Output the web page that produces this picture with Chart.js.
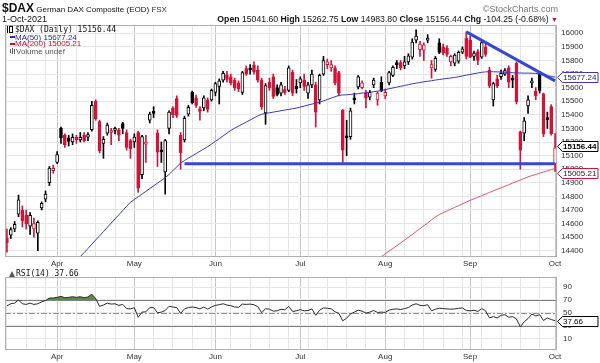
<!DOCTYPE html>
<html>
<head>
<meta charset="utf-8">
<script src="https://cdn.jsdelivr.net/npm/chart.js@4.4.1/dist/chart.umd.min.js"></script>
<style>
  body { margin:0; background:#fff; }
  #wrap { position:relative; width:600px; height:363px; overflow:hidden; font-family:"Liberation Sans", Arial, sans-serif; color:#111; }
  .t { position:absolute; white-space:nowrap; line-height:1; }
  .mono { font-family:"DejaVu Sans Mono", monospace; }
  .ico { display:inline-block; vertical-align:middle; }
  #pc { position:absolute; left:0; top:0; }
  #rc { position:absolute; left:0; top:266px; }
</style>
</head>
<body>
<div id="wrap">
  <canvas id="pc" width="600" height="268"></canvas>
  <canvas id="rc" width="600" height="97"></canvas>

  <div class="t" style="left:2px;top:-1px;"><b style="font-size:12px">$DAX</b><span style="font-size:8px"> German DAX Composite (EOD) </span><span style="font-size:8px;color:#333">FSX</span></div>
  <div class="t" style="right:42px;top:5px;font-size:9px;color:#777;">&copy;StockCharts.com</div>
  <div class="t" style="left:2px;top:15px;font-size:9px;">1-Oct-2021</div>
  <div class="t" id="ohlc" style="right:42px;top:15px;font-size:8.7px;"></div>

  <div class="t mono" id="lg1" style="left:7px;top:26px;font-size:8px;"></div>
  <div class="t" id="lg2" style="left:10px;top:33.5px;font-size:8px;color:#2b2b9a;"></div>
  <div class="t" id="lg3" style="left:10px;top:40px;font-size:8px;color:#c8102e;"></div>
  <div class="t" style="left:10px;top:47.5px;font-size:8px;color:#555;"><span class="ico" style="width:1px;height:4px;background:#666;margin-right:1px"></span><span class="ico" style="width:1px;height:6px;background:#666;margin-right:1px"></span><span class="ico" style="width:1px;height:5px;background:#666;margin-right:1px"></span>Volume undef</div>
  <div class="t mono" id="lg4" style="left:9px;top:270px;font-size:8px;"></div>
</div>
<script>
// trading days shown
const dates = [
  '2021-03-15','2021-03-16','2021-03-17','2021-03-18','2021-03-19','2021-03-22','2021-03-23','2021-03-24','2021-03-25','2021-03-26','2021-03-29','2021-03-30','2021-03-31',
  '2021-04-01','2021-04-06','2021-04-07','2021-04-08','2021-04-09','2021-04-12','2021-04-13','2021-04-14','2021-04-15','2021-04-16','2021-04-19','2021-04-20','2021-04-21','2021-04-22','2021-04-23','2021-04-26','2021-04-27','2021-04-28','2021-04-29','2021-04-30',
  '2021-05-03','2021-05-04','2021-05-05','2021-05-06','2021-05-07','2021-05-10','2021-05-11','2021-05-12','2021-05-13','2021-05-14','2021-05-17','2021-05-18','2021-05-19','2021-05-20','2021-05-21','2021-05-24','2021-05-25','2021-05-26','2021-05-27','2021-05-28','2021-05-31',
  '2021-06-01','2021-06-02','2021-06-03','2021-06-04','2021-06-07','2021-06-08','2021-06-09','2021-06-10','2021-06-11','2021-06-14','2021-06-15','2021-06-16','2021-06-17','2021-06-18','2021-06-21','2021-06-22','2021-06-23','2021-06-24','2021-06-25','2021-06-28','2021-06-29','2021-06-30',
  '2021-07-01','2021-07-02','2021-07-05','2021-07-06','2021-07-07','2021-07-08','2021-07-09','2021-07-12','2021-07-13','2021-07-14','2021-07-15','2021-07-16','2021-07-19','2021-07-20','2021-07-21','2021-07-22','2021-07-23','2021-07-26','2021-07-27','2021-07-28','2021-07-29','2021-07-30',
  '2021-08-02','2021-08-03','2021-08-04','2021-08-05','2021-08-06','2021-08-09','2021-08-10','2021-08-11','2021-08-12','2021-08-13','2021-08-16','2021-08-17','2021-08-18','2021-08-19','2021-08-20','2021-08-23','2021-08-24','2021-08-25','2021-08-26','2021-08-27','2021-08-30','2021-08-31',
  '2021-09-01','2021-09-02','2021-09-03','2021-09-06','2021-09-07','2021-09-08','2021-09-09','2021-09-10','2021-09-13','2021-09-14','2021-09-15','2021-09-16','2021-09-17','2021-09-20','2021-09-21','2021-09-22','2021-09-23','2021-09-24','2021-09-27','2021-09-28','2021-09-29','2021-09-30',
  '2021-10-01'
];

const opens = [
  14495,14515,14560,14670,14700,14660,14580,14560,14530,14715,14780,14900,14990,15050,15300,15250,15230,15200,15235,15215,
  15250,15235,15290,15500,15350,15190,15265,15270,15285,15290,15335,15270,15210,15200,15270,14960,15185,15360,15425,15265,
  15130,14980,15300,15450,15520,15250,15215,15405,15565,15525,15445,15450,15510,15510,15565,15610,15655,15695,15680,15655,
  15635,15565,15740,15740,15765,15730,15655,15415,15640,15680,15600,15560,15585,15580,15715,15610,15635,15655,15560,15620,
  15620,15510,15700,15770,15745,15745,15710,15435,15240,15240,15520,15605,15600,15560,15530,15620,15510,15640,15540,15635,
  15690,15780,15785,15760,15790,15825,15950,15880,15875,15950,15745,15735,15930,15900,15890,15790,15780,15795,15862,15965,
  15950,15830,15865,15825,15900,15730,15510,15665,15680,15700,15745,15670,15780,15275,15265,15465,15635,15575,15710,15555,
  15370,15460,15041.60
];
const highs = [
  14560,14570,14615,14810,14730,14700,14680,14640,14620,14760,14840,15020,15030,15130,15310,15260,15250,15260,15250,15270,
  15270,15270,15500,15510,15360,15240,15340,15300,15310,15300,15345,15290,15220,15260,15280,15250,15250,15420,15460,15290,
  15200,15220,15430,15460,15540,15270,15390,15470,15575,15545,15460,15540,15525,15590,15640,15665,15720,15720,15700,15670,
  15650,15720,15760,15770,15790,15760,15670,15630,15670,15700,15620,15640,15610,15760,15730,15660,15680,15700,15640,15730,
  15640,15700,15830,15810,15800,15760,15720,15440,15360,15450,15560,15690,15650,15580,15580,15670,15570,15680,15590,15720,
  15760,15800,15800,15830,15850,15960,16025,15940,15930,15990,15800,15830,15960,15920,15910,15840,15850,15870,15900,16010,
  15980,15870,15880,15945,15920,15750,15640,15690,15730,15740,15760,15690,15790,15280,15380,15540,15670,15600,15720,15560,
  15420,15475,15262.75
];
const lows = [
  14390,14490,14540,14650,14575,14560,14520,14500,14400,14700,14760,14880,14970,15040,15190,15160,15170,15180,15190,15200,
  15200,15210,15280,15360,15120,15080,15250,15180,15260,15210,15260,15140,15080,15160,14830,14930,15050,15340,15380,15020,
  15050,14816,15260,15380,15380,15000,15200,15390,15480,15455,15360,15430,15420,15500,15540,15480,15640,15640,15620,15580,
  15570,15550,15690,15700,15700,15640,15440,15330,15580,15520,15540,15540,15550,15570,15540,15560,15600,15580,15520,15600,
  15310,15480,15690,15740,15720,15620,15540,15050,15100,15220,15480,15590,15590,15450,15510,15600,15470,15570,15520,15620,
  15680,15740,15730,15740,15770,15810,15930,15830,15800,15930,15670,15720,15850,15840,15830,15760,15760,15780,15850,15810,
  15820,15800,15770,15815,15830,15600,15465,15600,15660,15690,15600,15600,15480,15000,15210,15410,15600,15510,15560,15240,
  15300,15250,14983.80
];
const closes = [
  14460,14555,14595,14775,14620,14600,14660,14600,14610,14748,14817,15008,15007,15107,15230,15180,15205,15234,15215,15234,
  15209,15255,15470,15370,15135,15220,15325,15285,15300,15250,15300,15160,15150,15236,14860,15240,15200,15405,15410,15125,
  15128,15210,15420,15400,15395,15120,15375,15455,15490,15470,15425,15525,15440,15580,15630,15650,15705,15660,15635,15600,
  15590,15710,15700,15730,15715,15655,15460,15615,15600,15535,15550,15620,15565,15745,15560,15590,15665,15610,15620,15700,
  15420,15690,15800,15790,15770,15635,15560,15140,15230,15430,15510,15680,15635,15525,15565,15655,15560,15575,15565,15710,
  15750,15770,15745,15790,15835,15935,15980,15920,15915,15965,15770,15815,15860,15855,15845,15830,15840,15860,15885,15830,
  15825,15855,15800,15932,15845,15615,15630,15615,15705,15725,15640,15655,15495,15140,15355,15510,15650,15540,15580,15260,
  15365,15260.69,15156.44
];

// 50-day average, first drawn day then daily values
const ma50From = '2021-04-12';
const ma50 = [
  14325,14358,14386,14417,14448,14479,14510,14541,14572,14603,14634,14665,14696,14727,14757,14777,14797,14817,14837,14857,
  14877,14897,14917,14937,14962,14990,15017,15045,15064,15081,15098,15115,15132,15149,15166,15185,15205,15225,15245,15265,
  15285,15302,15317,15332,15347,15362,15377,15392,15405,15410,15415,15420,15425,15430,15435,15440,15445,15450,15457,15464,
  15472,15479,15486,15493,15503,15513,15523,15533,15543,15546,15548,15550,15553,15556,15560,15563,15566,15570,15574,15580,
  15586,15592,15598,15604,15610,15616,15622,15628,15633,15638,15643,15647,15651,15656,15660,15664,15668,15671,15675,15680,
  15686,15692,15697,15703,15708,15713,15716,15717,15717,15716,15715,15713,15711,15710,15708,15708,15707,15707,15706,15705,
  15700,15694,15688,15683,15677.24
];
// 200-day average
const ma200From = '2021-07-27';
const ma200 = [
  14297,14317,14337,14357,14377,14397,14417,14437,14458,14478,14499,14520,14541,14562,14584,14605,14627,14648,14667,14680,
  14693,14706,14719,14732,14745,14758,14771,14782,14794,14806,14817,14829,14840,14852,14863,14875,14886,14898,14909,14921,
  14932,14944,14953,14962,14971,14980,14988,14997,15005.21
];

const rsi = [
  61,64,65,70,64,63,65,63,64,67,69,73,73,74,75.5,73.5,74,75,74,75,
  73.5,74.5,79,72,60,62,65,63.5,64,61.5,63,56.5,56,58,43,51,51.5,58,58,50,
  51,53.5,60,59,58,49,56,58,59,58,56,59,55.5,59,61.5,62.5,64,62,61,59,
  58.5,63.5,63,63.5,62.5,59.5,50,56.5,55.5,52.5,53,55.5,54.5,60,52,53,55,53,53.5,56,
  46,54,57.5,57,56,51.5,49,37.5,41.5,48,51,54,52.5,49.5,51,53.5,50.5,51,50.5,54,
  55.5,56,55,56.5,58,62,64,61.5,61,62.5,53,55.5,57,56.5,56,55.5,56,57,57.5,53.5,
  53,54,52,56.5,53,42,44,42,46,47,43,44,40.5,28,36,41,48,45,47,38,
  42,39.5,37.66
];

// hand drawn trend lines [date, price]
const supportLine = [['2021-05-20', 15040], ['2021-10-01', 15040]];
const resistLine = [['2021-08-31', 16010], ['2021-10-01', 15650]];

const priceTicks = [14400,14500,14600,14700,14800,14900,15000,15100,15200,15300,15400,15500,15600,15700,15800,15900,16000];
const rsiTicks = [10,20,30,40,50,60,70,80,90];
const rsiLabels = [10,30,50,70,90];
const monthNames = ['Jan','Feb','Mar','Apr','May','Jun','Jul','Aug','Sep','Oct','Nov','Dec'];

const RED = '#d2143a', BLK = '#000';

// candle colours: red when close below previous close, hollow when close above open
const edge = closes.map((c, i) => (i > 0 && c < closes[i-1]) || (i === 0 && c < opens[0]) ? RED : BLK);
const fill = closes.map((c, i) => c >= opens[i] ? '#fff' : edge[i]);
const bodies = closes.map((c, i) => [Math.min(opens[i], c), Math.max(opens[i], c)]);
const wicks = highs.map((h, i) => [lows[i], h]);

const monthStart = dates.map((d, i) => i > 0 && d.slice(5,7) !== dates[i-1].slice(5,7));
const dow = dates.map(d => new Date(d + 'T00:00:00Z').getUTCDay());
const weekStart = dow.map((w, i) => i === 0 || w < dow[i-1]);

const fromIdx = d => dates.indexOf(d);
const ma50Pts = ma50.map((v, k) => ({ x: dates[fromIdx(ma50From) + k], y: v }));
const ma200Pts = ma200.map((v, k) => ({ x: dates[fromIdx(ma200From) + k], y: v }));

const last = a => a[a.length - 1];

// text in legends and header
document.getElementById('ohlc').innerHTML =
  '<b>Open</b> ' + opens.at(-1).toFixed(2) + ' <b>High</b> ' + highs.at(-1).toFixed(2) +
  ' <b>Low</b> ' + lows.at(-1).toFixed(2) + ' <b>Close</b> ' + closes.at(-1).toFixed(2) +
  ' <b>Chg</b> -104.25 (-0.68%) <span style="color:#c8102e;font-size:7px">&#9660;</span>';
document.getElementById('lg1').innerHTML =
  '<span class="ico" style="width:1px;height:7px;background:#000;margin-right:1px"></span><span class="ico" style="width:2px;height:5px;border:1px solid #000;margin-right:2px"></span>$DAX (Daily) ' + closes.at(-1).toFixed(2);
document.getElementById('lg2').innerHTML = '<span class="ico" style="width:5px;height:2px;background:#2b2b9a"></span>MA(50) ' + last(ma50).toFixed(2);
document.getElementById('lg3').innerHTML = '<span class="ico" style="width:5px;height:2px;background:#c8102e"></span>MA(200) ' + last(ma200).toFixed(2);
document.getElementById('lg4').innerHTML = '<span class="ico" style="width:0;height:0;border-left:3px solid transparent;border-right:3px solid transparent;border-bottom:6px solid #3e6b34;margin-right:1px"></span>RSI(14) ' + last(rsi).toFixed(2);

Chart.defaults.font.family = '"Liberation Sans", Arial, sans-serif';
Chart.defaults.font.size = 8;
Chart.defaults.color = '#333';

function tag(ctx, x, y, text, border, color, bold) {
  const h = 10, w = 41;
  ctx.save();
  ctx.beginPath();
  ctx.moveTo(x + 0.5, y);
  ctx.lineTo(x + 5.5, y - h / 2);
  ctx.lineTo(x + w, y - h / 2);
  ctx.lineTo(x + w, y + h / 2);
  ctx.lineTo(x + 5.5, y + h / 2);
  ctx.closePath();
  ctx.fillStyle = '#fff';
  ctx.fill();
  ctx.strokeStyle = border;
  ctx.lineWidth = 1;
  ctx.stroke();
  ctx.fillStyle = color;
  ctx.font = (bold ? 'bold ' : '') + '8px "Liberation Sans", Arial';
  ctx.textBaseline = 'middle';
  ctx.fillText(text, x + 6, y + 0.5);
  ctx.restore();
}

const frame = {
  id: 'frame',
  afterDraw(chart) {
    const { ctx, chartArea: a } = chart;
    ctx.save();
    ctx.strokeStyle = '#b0b0b0';
    ctx.lineWidth = 1;
    ctx.strokeRect(Math.round(a.left) + 0.5, Math.round(a.top) + 0.5, Math.round(a.right - a.left) - 1, Math.round(a.bottom - a.top) - 1);
    ctx.restore();
  }
};

function xAxis(h) {
  return {
    offset: true,
    afterFit: s => { s.height = h; },
    grid: {
      offset: false,
      drawTicks: false,
      color: c => monthStart[c.index] ? '#c6c6c6' : (weekStart[c.index] ? '#e6e6e6' : 'rgba(0,0,0,0)')
    },
    border: { display: false },
    ticks: {
      autoSkip: false, maxRotation: 0, padding: 2,
      callback: (v, i) => monthStart[i] ? monthNames[+dates[i].slice(5,7) - 1] : ''
    }
  };
}

new Chart(document.getElementById('pc'), {
  type: 'bar',
  data: {
    labels: dates,
    datasets: [
      { type: 'line', data: supportLine.map(p => ({ x: p[0], y: p[1] })), borderColor: '#3647d0', borderWidth: 3, pointRadius: 0, order: 0 },
      { type: 'line', data: resistLine.map(p => ({ x: p[0], y: p[1] })), borderColor: '#3647d0', borderWidth: 3, pointRadius: 0, order: 0 },
      { type: 'line', data: ma50Pts, borderColor: '#3a3aae', borderWidth: 1, pointRadius: 0, order: 0 },
      { type: 'line', data: ma200Pts, borderColor: '#e2576d', borderWidth: 1, pointRadius: 0, order: 0 },
      { data: bodies, backgroundColor: fill, borderColor: edge, borderWidth: 1, borderSkipped: false,
        barThickness: 3, minBarLength: 2, grouped: false, order: 1 },
      { data: wicks, backgroundColor: edge, borderWidth: 0, barThickness: 1, grouped: false, order: 2 }
    ]
  },
  options: {
    responsive: false, animation: false, devicePixelRatio: 1,
    layout: { padding: { left: 5, top: 25, right: 0, bottom: 0 } },
    plugins: { legend: { display: false }, tooltip: { enabled: false } },
    scales: {
      x: xAxis(11),
      y: {
        position: 'right', min: 14354, max: 16061,
        afterFit: s => { s.width = 43; },
        afterBuildTicks: s => { s.ticks = priceTicks.map(v => ({ value: v })); },
        grid: { color: '#e6e6e6', drawTicks: false },
        border: { display: false },
        ticks: { padding: 4, callback: v => String(v) }
      }
    }
  },
  plugins: [frame, {
    id: 'tags',
    afterDraw(chart) {
      const { ctx, chartArea: a, scales: { y } } = chart;
      tag(ctx, a.right, Math.round(y.getPixelForValue(last(ma50))) + 0.5, last(ma50).toFixed(2), '#3a3aae', '#1c1c70', false);
      tag(ctx, a.right, Math.round(y.getPixelForValue(last(closes))) - 1.5, last(closes).toFixed(2), '#000', '#000', true);
      tag(ctx, a.right, Math.round(y.getPixelForValue(last(ma200))) + 5.5, last(ma200).toFixed(2), '#d2143a', '#222', false);
    }
  }]
});

new Chart(document.getElementById('rc'), {
  type: 'line',
  data: {
    labels: dates,
    datasets: [{
      data: rsi, borderColor: '#2a2a2a', borderWidth: 1, pointRadius: 0,
      fill: { target: { value: 70 }, above: '#5a8a4c', below: 'rgba(0,0,0,0)' }
    }]
  },
  options: {
    responsive: false, animation: false, devicePixelRatio: 1,
    layout: { padding: { left: 5, top: 3, right: 0, bottom: 0 } },
    plugins: { legend: { display: false }, tooltip: { enabled: false } },
    scales: {
      x: xAxis(13),
      y: {
        position: 'right', min: -8, max: 106,
        afterFit: s => { s.width = 43; },
        afterBuildTicks: s => { s.ticks = rsiTicks.map(v => ({ value: v })); },
        grid: { color: '#e8e8e8', drawTicks: false },
        border: { display: false },
        ticks: { padding: 6, callback: v => rsiLabels.includes(v) ? String(v) : '' }
      }
    }
  },
  plugins: [frame, {
    id: 'levels',
    beforeDatasetsDraw(chart) {
      const { ctx, chartArea: a, scales: { y } } = chart;
      ctx.save();
      ctx.lineWidth = 1;
      [70, 30].forEach(v => {
        const py = Math.round(y.getPixelForValue(v)) + 0.5;
        ctx.strokeStyle = '#808080';
        ctx.beginPath(); ctx.moveTo(a.left, py); ctx.lineTo(a.right, py); ctx.stroke();
      });
      const p50 = Math.round(y.getPixelForValue(50)) + 0.5;
      ctx.strokeStyle = '#909090';
      ctx.setLineDash([6, 2, 2, 2]);
      ctx.beginPath(); ctx.moveTo(a.left, p50); ctx.lineTo(a.right, p50); ctx.stroke();
      ctx.restore();
    },
    afterDraw(chart) {
      const { ctx, chartArea: a, scales: { y } } = chart;
      tag(ctx, a.right, Math.round(y.getPixelForValue(last(rsi))) + 0.5, last(rsi).toFixed(2), '#000', '#000', false);
    }
  }]
});
</script>
</body>
</html>
